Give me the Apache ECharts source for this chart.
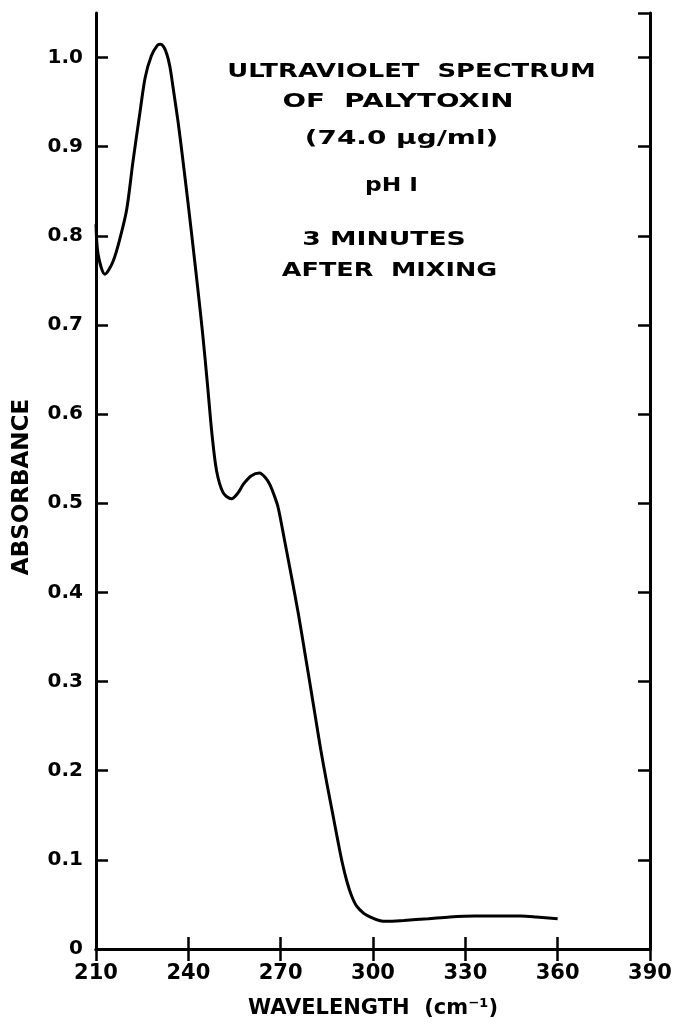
<!DOCTYPE html>
<html>
<head>
<meta charset="utf-8">
<script src="https://cdn.jsdelivr.net/npm/echarts@6/dist/echarts.min.js"></script>
<style>
html,body{margin:0;padding:0;background:#fff;}
#chart{width:686px;height:1024px;}
</style>
</head>
<body>
<div id="chart"></div>
<script>
// Wavelength and absorbance
const wavelengths = [210, 210.7, 212.9, 215.5, 218, 220, 222, 224.3, 226, 228, 230, 231, 232, 233, 234, 235.1, 236.7, 238.3, 240, 241.6, 243, 244.6, 246.2, 247.7, 249.2, 251.3, 254, 256, 258, 260.5, 263.1, 265, 266.5, 268, 269.2, 271.4, 273.5, 275.7, 277.5, 279.5, 281.3, 283, 285, 287, 288.6, 290, 291.5, 293, 294.7, 297, 299, 302, 304.5, 310, 318, 325, 333, 341, 348, 353, 360];
const absorbance = [0.813, 0.779, 0.757, 0.771, 0.800, 0.830, 0.883, 0.939, 0.978, 1.002, 1.014, 1.015, 1.012, 1.004, 0.990, 0.965, 0.927, 0.883, 0.834, 0.786, 0.743, 0.692, 0.634, 0.577, 0.536, 0.512, 0.505, 0.511, 0.522, 0.531, 0.534, 0.529, 0.521, 0.508, 0.495, 0.456, 0.418, 0.377, 0.340, 0.298, 0.260, 0.224, 0.186, 0.150, 0.121, 0.097, 0.076, 0.060, 0.048, 0.040, 0.036, 0.032, 0.031, 0.032, 0.034, 0.036, 0.037, 0.037, 0.037, 0.036, 0.034];
const xTicks = [210, 240, 270, 300, 330, 360, 390];
const yTicks = [0, 0.1, 0.2, 0.3, 0.4, 0.5, 0.6, 0.7, 0.8, 0.9, 1.0];
const annotationLines = ['ULTRAVIOLET  SPECTRUM', 'OF  PALYTOXIN', '(74.0 \u03bcg/ml)', 'pH I', '3 MINUTES', 'AFTER  MIXING'];

const FONT = '"DejaVu Sans", sans-serif';
const seriesData = wavelengths.map((w, i) => [w, absorbance[i]]);

const chart = echarts.init(document.getElementById('chart'));
const lineStyle = { color: '#000', width: 3 };
const tickStyle = { show: true, inside: true, length: 12, lineStyle: { color: '#000', width: 2.5 } };

const annPos = [[411.5, 72], [398, 102], [401.5, 139], [391.5, 186], [384, 240], [389.5, 271]];
const annScale = [1.36, 1.46, 1.47, 1.23, 1.40, 1.34];

chart.setOption({
  backgroundColor: '#fff',
  animation: false,
  grid: { left: 96, right: 36, top: 13, bottom: 74 },
  xAxis: [{
    type: 'value', position: 'bottom',
    min: xTicks[0], max: xTicks[xTicks.length - 1], interval: 30,
    name: 'WAVELENGTH  (cm\u207b\u00b9)', nameLocation: 'middle', nameGap: 49,
    nameTextStyle: { fontFamily: FONT, fontWeight: 'bold', fontSize: 21, color: '#000' },
    axisLine: { show: true, lineStyle: lineStyle },
    axisTick: tickStyle,
    axisLabel: { fontFamily: FONT, fontWeight: 'bold', fontSize: 21, color: '#000', margin: 14 },
    splitLine: { show: false }
  }, {
    type: 'value', position: 'top',
    min: xTicks[0], max: xTicks[xTicks.length - 1], interval: 30,
    axisLine: { show: true, lineStyle: lineStyle },
    axisTick: tickStyle,
    axisLabel: { show: false },
    splitLine: { show: false }
  }],
  yAxis: [{
    type: 'value', position: 'left',
    min: yTicks[0], max: 1.05, interval: 0.1,
    name: 'ABSORBANCE', nameLocation: 'middle', nameGap: 62,
    nameTextStyle: { fontFamily: FONT, fontWeight: 'bold', fontSize: 23, color: '#000', padding: [0, 12, 0, 0] },
    axisLine: { show: true, lineStyle: lineStyle },
    axisTick: tickStyle,
    axisLabel: {
      fontFamily: FONT, fontWeight: 'bold', fontSize: 20, color: '#000', margin: 13,
      showMaxLabel: false,
      formatter: v => v === 0 ? '0' : v.toFixed(1)
    },
    splitLine: { show: false }
  }, {
    type: 'value', position: 'right',
    min: yTicks[0], max: 1.05, interval: 0.1,
    axisLine: { show: true, lineStyle: lineStyle },
    axisTick: tickStyle,
    axisLabel: { show: false },
    splitLine: { show: false }
  }],
  series: [{
    type: 'line',
    data: seriesData,
    smooth: 0.3,
    showSymbol: false,
    lineStyle: { color: '#000', width: 3 },
    xAxisIndex: 0, yAxisIndex: 0
  }],
  graphic: annotationLines.map((t, i) => ({
    type: 'text',
    x: annPos[i][0], y: annPos[i][1],
    scaleX: annScale[i],
    style: {
      text: t,
      fill: '#000',
      font: 'bold 19px ' + FONT,
      textAlign: 'center',
      textVerticalAlign: 'middle'
    }
  }))
});
</script>
</body>
</html>
